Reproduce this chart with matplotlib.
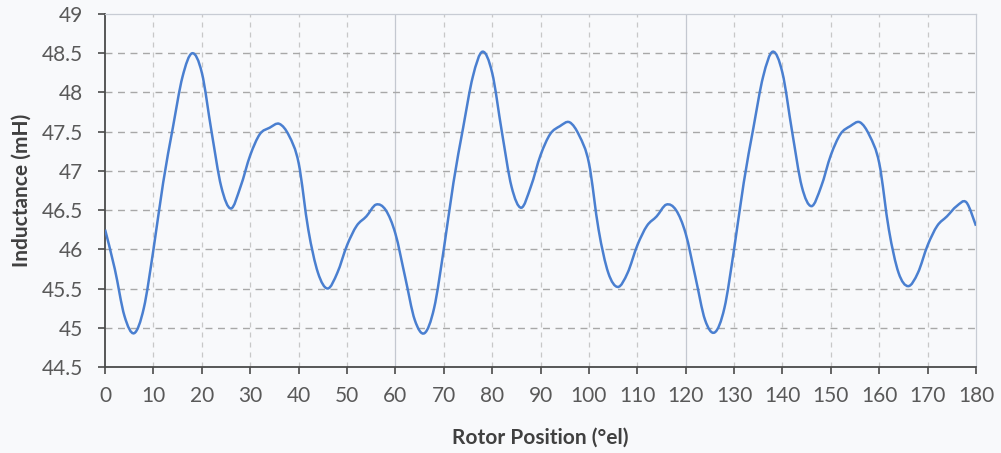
import matplotlib
matplotlib.use("Agg")
import matplotlib.pyplot as plt
import numpy as np
from matplotlib.path import Path
from matplotlib.patches import PathPatch

position = list(range(0, 182, 2))
inductance = [
    46.25, 45.75, 45.15, 44.93, 45.25, 46.00, 46.85, 47.55, 48.20, 48.50,
    48.25, 47.50, 46.80, 46.52, 46.80, 47.20, 47.47, 47.55, 47.60, 47.45,
    47.10, 46.25, 45.70, 45.50, 45.70, 46.05, 46.30, 46.42, 46.57, 46.50,
    46.20,
    45.65, 45.10, 44.93, 45.25, 46.00, 46.85, 47.55, 48.20, 48.52,
    48.25, 47.50, 46.80, 46.53, 46.80, 47.20, 47.47, 47.57, 47.62, 47.45,
    47.10, 46.25, 45.70, 45.52, 45.70, 46.05, 46.30, 46.42, 46.57, 46.50,
    46.20,
    45.65, 45.10, 44.94, 45.25, 46.00, 46.85, 47.55, 48.20, 48.52,
    48.25, 47.50, 46.80, 46.55, 46.80, 47.20, 47.47, 47.57, 47.62, 47.45,
    47.10, 46.25, 45.70, 45.53, 45.70, 46.05, 46.30, 46.42, 46.55, 46.60,
    46.30,
]
xticks = list(range(0, 190, 10))
yticks = [44.5, 45, 45.5, 46, 46.5, 47, 47.5, 48, 48.5, 49]
ytick_labels = ["44.5", "45", "45.5", "46", "46.5", "47", "47.5", "48", "48.5", "49"]

BG = "#f8f9fb"
TXT = "#595959"
LINE = "#4a7fd0"

plt.rcParams["font.family"] = ["Lato", "DejaVu Sans"]


def smooth_path(x, y):
    # excel style smoothed line: catmull-rom segments as cubic beziers
    x = np.asarray(x, float); y = np.asarray(y, float)
    px = np.concatenate([[x[0]], x, [x[-1]]]); py = np.concatenate([[y[0]], y, [y[-1]]])
    verts = [(x[0], y[0])]; codes = [Path.MOVETO]
    for i in range(1, len(px) - 2):
        c1 = (px[i] + (px[i + 1] - px[i - 1]) / 6, py[i] + (py[i + 1] - py[i - 1]) / 6)
        c2 = (px[i + 1] - (px[i + 2] - px[i]) / 6, py[i + 1] - (py[i + 2] - py[i]) / 6)
        verts += [c1, c2, (px[i + 1], py[i + 1])]
        codes += [Path.CURVE4] * 3
    return Path(verts, codes)


fig = plt.figure(figsize=(10.01, 4.53), dpi=100, facecolor=BG)
ax = fig.add_axes([0.105, 0.19, 0.870, 0.779], facecolor=BG)

ax.set_xlim(0, 180)
ax.set_ylim(44.5, 49)

# grid: dashed at every tick, solid light lines at 60 / 120
for xv in xticks[1:]:
    if xv in (60, 120):
        ax.axvline(xv, color="#c4c8d0", lw=0.9, zorder=1)
    elif xv != 180:
        ax.axvline(xv, color="#c8c8c8", lw=0.9, ls=(0, (4, 4)), zorder=1)
for yv in yticks[1:-1]:
    ax.axhline(yv, color="#a8a8a8", lw=1.0, ls=(0, (5, 4)), zorder=1)

ax.add_patch(PathPatch(smooth_path(position, inductance), fc="none", ec=LINE, lw=1.8, zorder=3))

for side in ("top", "right"):
    ax.spines[side].set_color("#c8ccd4")
    ax.spines[side].set_linewidth(0.9)
for side in ("left", "bottom"):
    ax.spines[side].set_color("#4a4a4a")
    ax.spines[side].set_linewidth(1.3)

ax.set_xticks(xticks)
ax.set_yticks(yticks)
ax.set_yticklabels(ytick_labels)
ax.tick_params(axis="both", direction="out", length=5, width=1.2, color="#4a4a4a",
               labelcolor=TXT, labelsize=15)
ax.tick_params(axis="x", pad=9)
ax.tick_params(axis="y", pad=11)

ax.set_xlabel("Rotor Position (°el)", fontsize=15, fontweight="bold", color="#404040", labelpad=15)
ax.set_ylabel("Inductance (mH)", fontsize=15, fontweight="bold", color="#404040", labelpad=7)

fig.savefig("out.png", dpi=100, facecolor=BG)
